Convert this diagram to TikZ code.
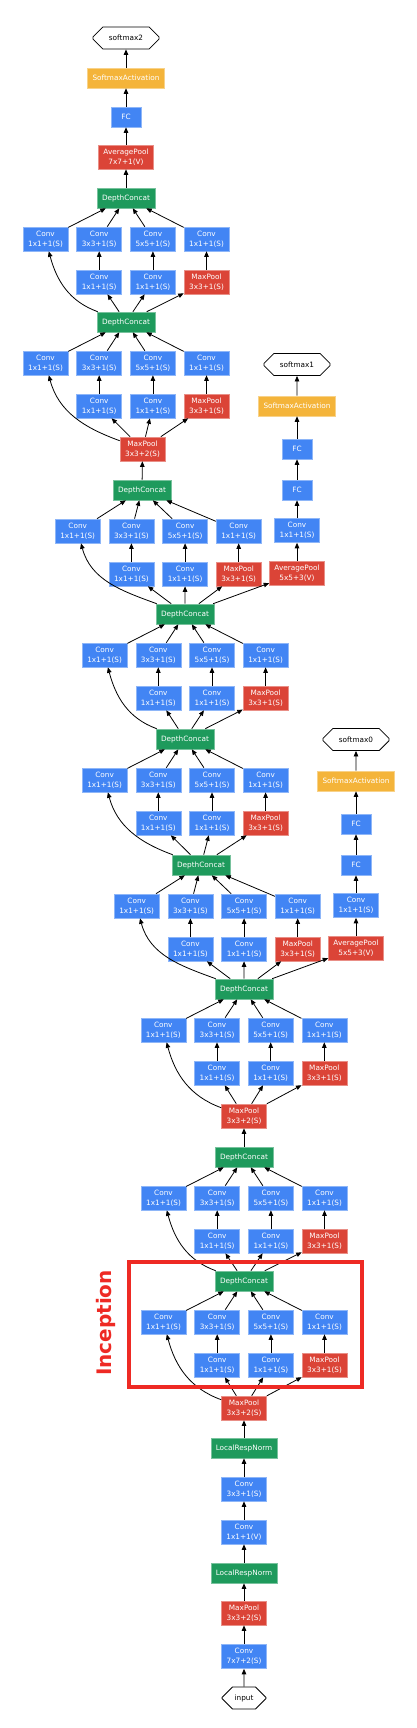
\documentclass[tikz,border=0pt]{standalone}
\usepackage{fontspec}
\usepackage{tikz}
\usetikzlibrary{shapes.misc,arrows.meta}
\newfontfamily\nodefont{DejaVu Sans}
\definecolor{convblue}{HTML}{4285F4}
\definecolor{poolred}{HTML}{DB4437}
\definecolor{catgreen}{HTML}{1E9A5C}
\definecolor{actyellow}{HTML}{F4B43A}
\definecolor{incred}{HTML}{EE2A24}

\begin{document}
\begin{tikzpicture}[x=1pt,y=1pt,
        box/.style={rectangle,inner sep=0pt,align=center,text=white,line width=0.6pt,
          font=\nodefont\fontsize{7.3}{10}\selectfont},
        convbox/.style={box,fill=convblue,draw=convblue!60!white,minimum width=45pt,minimum height=24pt},
        poolbox/.style={box,fill=poolred,draw=poolred!60!white,minimum width=45pt,minimum height=24pt},
        avgbox/.style={poolbox,minimum width=55pt},
        catbox/.style={box,fill=catgreen,draw=catgreen!60!white,minimum width=58pt,minimum height=20pt},
        lrnbox/.style={catbox,minimum width=66pt},
        fcbox/.style={convbox,minimum width=30pt,minimum height=20pt},
        actbox/.style={box,fill=actyellow,draw=actyellow!60!white,minimum width=77pt,minimum height=20pt},
        octbox/.style={chamfered rectangle,chamfered rectangle xsep=10pt,chamfered rectangle ysep=7pt,
          draw,line width=0.8pt,inner sep=0pt,minimum width=66pt,minimum height=22pt,
          font=\nodefont\fontsize{7.3}{10}\selectfont},
        edge/.style={-{Triangle[length=5.5pt,width=4.5pt]},line width=0.8pt}]
        \useasboundingbox (0,0) rectangle (416,-1728);
        % stem
        \node [octbox,minimum width=44pt,chamfered rectangle xsep=7pt] (input) at (244,-1698) {input};
        \node [convbox] (conv1) at (244,-1656.5) {Conv\\7x7+2(S)};
        \node [poolbox] (mp1) at (244,-1613) {MaxPool\\3x3+2(S)};
        \node [lrnbox] (lrn1) at (244,-1573) {LocalRespNorm};
        \node [convbox] (conv2) at (244,-1532) {Conv\\1x1+1(V)};
        \node [convbox] (conv3) at (244,-1489) {Conv\\3x3+1(S)};
        \node [lrnbox] (lrn2) at (244,-1448) {LocalRespNorm};
        \node [poolbox] (mp2) at (244,-1408) {MaxPool\\3x3+2(S)};
        \node [poolbox] (mp3) at (244,-1116) {MaxPool\\3x3+2(S)};
        \node [poolbox] (mp4) at (142.5,-449) {MaxPool\\3x3+2(S)};
        \foreach \a/\b in {input/conv1,conv1/mp1,mp1/lrn1,lrn1/conv2,conv2/conv3,conv3/lrn2,lrn2/mp2}
          \draw [edge] (\a) -- (\b);
        % inception modules: name/input/concat x/concat y/first column x
        \foreach \m/\src/\dx/\dy/\xa in {3a/mp2/244/1281/163.5,3b/dc3a/244/1157/163.5,
            4a/mp3/244/989/163.3,4b/dc4a/201/865/136.7,4c/dc4b/185/739/104.6,
            4d/dc4c/185/614/104.6,4e/dc4d/142/490/77.7,5a/mp4/126/322/45.5,5b/dc5a/126/198/45.5} {
          \node [catbox] (dc\m) at (\dx,-\dy) {DepthConcat};
          \node [convbox] (a1-\m) at (\xa,-\dy-41) {Conv\\1x1+1(S)};
          \node [convbox] (a2-\m) at (\xa+53.7,-\dy-41) {Conv\\3x3+1(S)};
          \node [convbox] (a3-\m) at (\xa+107.4,-\dy-41) {Conv\\5x5+1(S)};
          \node [convbox] (a4-\m) at (\xa+161,-\dy-41) {Conv\\1x1+1(S)};
          \node [convbox] (b2-\m) at (\xa+53.7,-\dy-84) {Conv\\1x1+1(S)};
          \node [convbox] (b3-\m) at (\xa+107.4,-\dy-84) {Conv\\1x1+1(S)};
          \node [poolbox] (b4-\m) at (\xa+161,-\dy-84) {MaxPool\\3x3+1(S)};
          \draw [edge] (\src) to[out=160,in=-75] (a1-\m);
          \foreach \k in {2,3,4} {
            \draw [edge] (\src) -- (b\k-\m);
            \draw [edge] (b\k-\m) -- (a\k-\m);
          }
          \foreach \k in {1,2,3,4}
            \draw [edge] (a\k-\m) -- (dc\m);
        }
        \draw [edge] (dc3b) -- (mp3);
        \draw [edge] (dc4e) -- (mp4);
        % side classifiers
        \foreach \h/\x/\y/\src in {0/356/948/dc4a,1/297/573/dc4d} {
          \node [avgbox] (avg\h) at (\x,-\y) {AveragePool\\5x5+3(V)};
          \node [convbox] (hc\h) at (\x,-\y+42.5) {Conv\\1x1+1(S)};
          \node [fcbox] (fca\h) at (\x,-\y+83) {FC};
          \node [fcbox] (fcb\h) at (\x,-\y+124) {FC};
          \node [actbox] (act\h) at (\x,-\y+167) {SoftmaxActivation};
          \node [octbox] (sm\h) at (\x,-\y+208.5) {softmax\h};
          \draw [edge] (\src) -- (avg\h);
          \foreach \a/\b in {avg/hc,hc/fca,fca/fcb,fcb/act,act/sm}
            \draw [edge] (\a\h) -- (\b\h);
        }
        % main classifier
        \node [avgbox] (avg2) at (126,-157) {AveragePool\\7x7+1(V)};
        \node [fcbox] (fc2) at (126,-117) {FC};
        \node [actbox] (act2) at (126,-78) {SoftmaxActivation};
        \node [octbox] (sm2) at (126,-38) {softmax2};
        \foreach \a/\b in {dc5b/avg2,avg2/fc2,fc2/act2,act2/sm2}
          \draw [edge] (\a) -- (\b);
        % highlighted module
        \draw [incred,line width=4.5pt] (129,-1262) rectangle (362,-1387);
        \node [rotate=90,text=incred,inner sep=0pt,font=\nodefont\bfseries\fontsize{20}{20}\selectfont] (inclabel) at (106,-1323) {Inception};
      \end{tikzpicture}
\end{document}
